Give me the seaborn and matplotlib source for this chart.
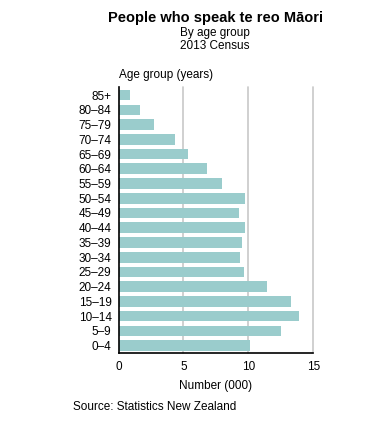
import matplotlib
matplotlib.use("Agg")
import matplotlib.pyplot as plt
import seaborn as sns
import pandas as pd

age_groups = ["85+", "80–84", "75–79", "70–74", "65–69", "60–64", "55–59", "50–54",
              "45–49", "40–44", "35–39", "30–34", "25–29", "20–24", "15–19", "10–14",
              "5–9", "0–4"]
speakers_000 = [0.9, 1.65, 2.75, 4.35, 5.35, 6.8, 7.95, 9.75,
                9.3, 9.75, 9.5, 9.35, 9.65, 11.4, 13.25, 13.9, 12.5, 10.1]
x_ticks = [0, 5, 10, 15]

df = pd.DataFrame({"age": age_groups, "value": speakers_000})

sns.set_style("white")
plt.rcParams["font.family"] = ["Liberation Sans", "DejaVu Sans"]
plt.rcParams["text.color"] = "black"
plt.rcParams["xtick.color"] = "black"
plt.rcParams["ytick.color"] = "black"
plt.rcParams["axes.labelcolor"] = "black"

fig = plt.figure(figsize=(3.91, 4.24), dpi=100)
ax = fig.add_axes([118.5 / 391, 1 - 353 / 424, (313.3 - 118.5) / 391, (353 - 87) / 424])

sns.barplot(data=df, x="value", y="age", orient="h", color="#9ACCCC",
            saturation=1, width=0.72, ax=ax, zorder=3, linewidth=0, edgecolor="none")

ax.set_xlim(0, 15)
ax.set_ylim(len(age_groups) - 0.5, -0.55)
ax.set_xticks(x_ticks)
ax.set_xticklabels([str(t) for t in x_ticks], fontsize=8.5)
ax.tick_params(axis="y", labelsize=8.5, length=0, pad=5)
ax.tick_params(axis="x", length=0, pad=6)
for t in x_ticks[1:]:
    ax.axvline(t, color="#C8C8C8", lw=1.2, zorder=1, clip_on=False)
for s in ["top", "right"]:
    ax.spines[s].set_visible(False)
for s in ["left", "bottom"]:
    ax.spines[s].set_color("black")
    ax.spines[s].set_linewidth(1.2)
    ax.spines[s].set_zorder(5)
ax.set_ylabel("")
ax.set_xlabel("Number (000)", fontsize=8.5, labelpad=5)

fig.text(215 / 391, 1 - 18 / 424, "People who speak te reo Māori", ha="center", va="center",
         fontsize=10.5, fontweight="bold")
fig.text(215 / 391, 1 - 33 / 424, "By age group", ha="center", va="center", fontsize=8.5)
fig.text(215 / 391, 1 - 46 / 424, "2013 Census", ha="center", va="center", fontsize=8.5)
fig.text(119 / 391, 1 - 75 / 424, "Age group (years)", ha="left", va="center", fontsize=8.5)
fig.text(73 / 391, 1 - 407 / 424, "Source: Statistics New Zealand", ha="left", va="center", fontsize=8.5)

fig.savefig("out.png", dpi=100)
